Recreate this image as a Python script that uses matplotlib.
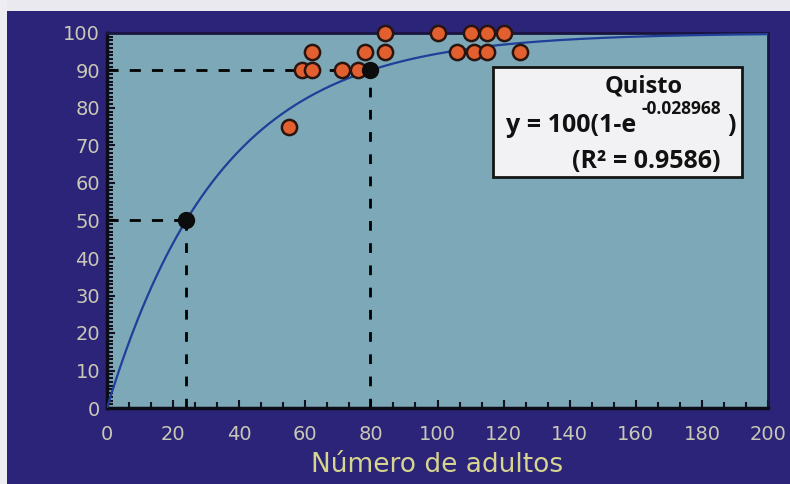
import numpy as np
import matplotlib
matplotlib.use('Agg')
import matplotlib.pyplot as plt
from matplotlib.ticker import MultipleLocator
from matplotlib.patches import Rectangle

# observed points (numero de adultos, % quisto)
adultos = [55, 59, 62, 62, 71, 76, 78, 84, 84, 100, 106, 110, 111, 115, 115, 120, 125]
quisto = [75, 90, 90, 95, 90, 90, 95, 95, 100, 100, 95, 100, 95, 95, 100, 100, 95]

# fitted model y = 100(1 - e^(-k x))
k_fit = 0.028968
r2_fit = 0.9586
# reference points read on the curve (50% and 90%)
ref_x = [23.9, 79.5]
ref_y = [50, 90]

x_ticks = [0, 20, 40, 60, 80, 100, 120, 140, 160, 180, 200]
y_ticks = [0, 10, 20, 30, 40, 50, 60, 70, 80, 90, 100]

navy = '#2b2478'
teal = '#7da8b7'
tick_col = '#c9c8b6'
label_col = '#d6d48e'

fig = plt.figure(figsize=(7.9, 4.84), dpi=100, facecolor=navy)
# light paper strips at the top and left of the scan
fig.patches.append(Rectangle((0, 1 - 11 / 484), 1, 11 / 484, transform=fig.transFigure,
                             facecolor='#e9e9ef', edgecolor='none'))
fig.patches.append(Rectangle((0, 0), 7 / 790, 1, transform=fig.transFigure,
                             facecolor='#eeeef2', edgecolor='none'))

ax = fig.add_axes([107 / 790, 76 / 484, 661 / 790, 375 / 484])
ax.set_facecolor(teal)

xs = np.linspace(0, 200, 400)
ax.plot(xs, 100 * (1 - np.exp(-k_fit * xs)), color='#1f3f9a', lw=1.6, zorder=3)

# dashed guide lines
for rx, ry in zip(ref_x, ref_y):
    ax.plot([0, rx], [ry, ry], color='black', lw=2, ls=(0, (4, 4)), zorder=2)
    ax.plot([rx, rx], [0, ry], color='black', lw=2, ls=(0, (3.5, 4.5)), zorder=2)

ax.scatter(adultos, quisto, s=120, color='#e2602f', edgecolor='#2a1410', lw=1.8, zorder=4,
           clip_on=False)
ax.scatter(ref_x, ref_y, s=120, color='#0c0c0c', edgecolor='#0c0c0c', lw=1.5, zorder=5)

ax.set_xlim(0, 200)
ax.set_ylim(0, 100)
ax.set_xticks(x_ticks)
ax.set_yticks(y_ticks)
ax.xaxis.set_minor_locator(MultipleLocator(20 / 3))
ax.yaxis.set_minor_locator(MultipleLocator(1))
ax.tick_params(axis='both', which='major', direction='in', length=6, width=1.5,
               color='#101020', labelcolor=tick_col, labelsize=14)
ax.tick_params(axis='both', which='minor', direction='in', length=4, width=1.5,
               color='#101020')
ax.tick_params(axis='x', which='major', pad=12)
ax.tick_params(axis='y', which='major', pad=5)

for side in ['left', 'bottom']:
    ax.spines[side].set_color('#0d0d1a')
    ax.spines[side].set_linewidth(2.5)
for side in ['top', 'right']:
    ax.spines[side].set_color('#1a1540')
    ax.spines[side].set_linewidth(2)

ax.set_xlabel('Número de adultos', color=label_col, fontsize=19, labelpad=6)

# equation box
box = Rectangle((493 / 790, 1 - 177 / 484), 249 / 790, 110 / 484, transform=fig.transFigure,
                facecolor='#f2f2f4', edgecolor='#151515', lw=2, zorder=10)
fig.patches.append(box)
fnt = dict(family=['Open Sans', 'DejaVu Sans'], weight='bold', color='#111111')
fig.text(644 / 790, 1 - 86 / 484, 'Quisto', ha='center', va='center', fontsize=17,
         zorder=11, **fnt)
fig.text(506 / 790, 1 - 126 / 484, 'y = 100(1-e', ha='left', va='center', fontsize=18,
         zorder=11, **fnt)
fig.text(641 / 790, 1 - 109 / 484, '-%g' % k_fit, ha='left', va='center', fontsize=12.5,
         zorder=11, **fnt)
fig.text(727 / 790, 1 - 125 / 484, ')', ha='left', va='center', fontsize=18,
         zorder=11, **fnt)
fig.text(646 / 790, 1 - 161 / 484, '(R² = %.4f)' % r2_fit, ha='center', va='center',
         fontsize=18, zorder=11, **fnt)

fig.savefig('out.png', dpi=100, facecolor=navy)
